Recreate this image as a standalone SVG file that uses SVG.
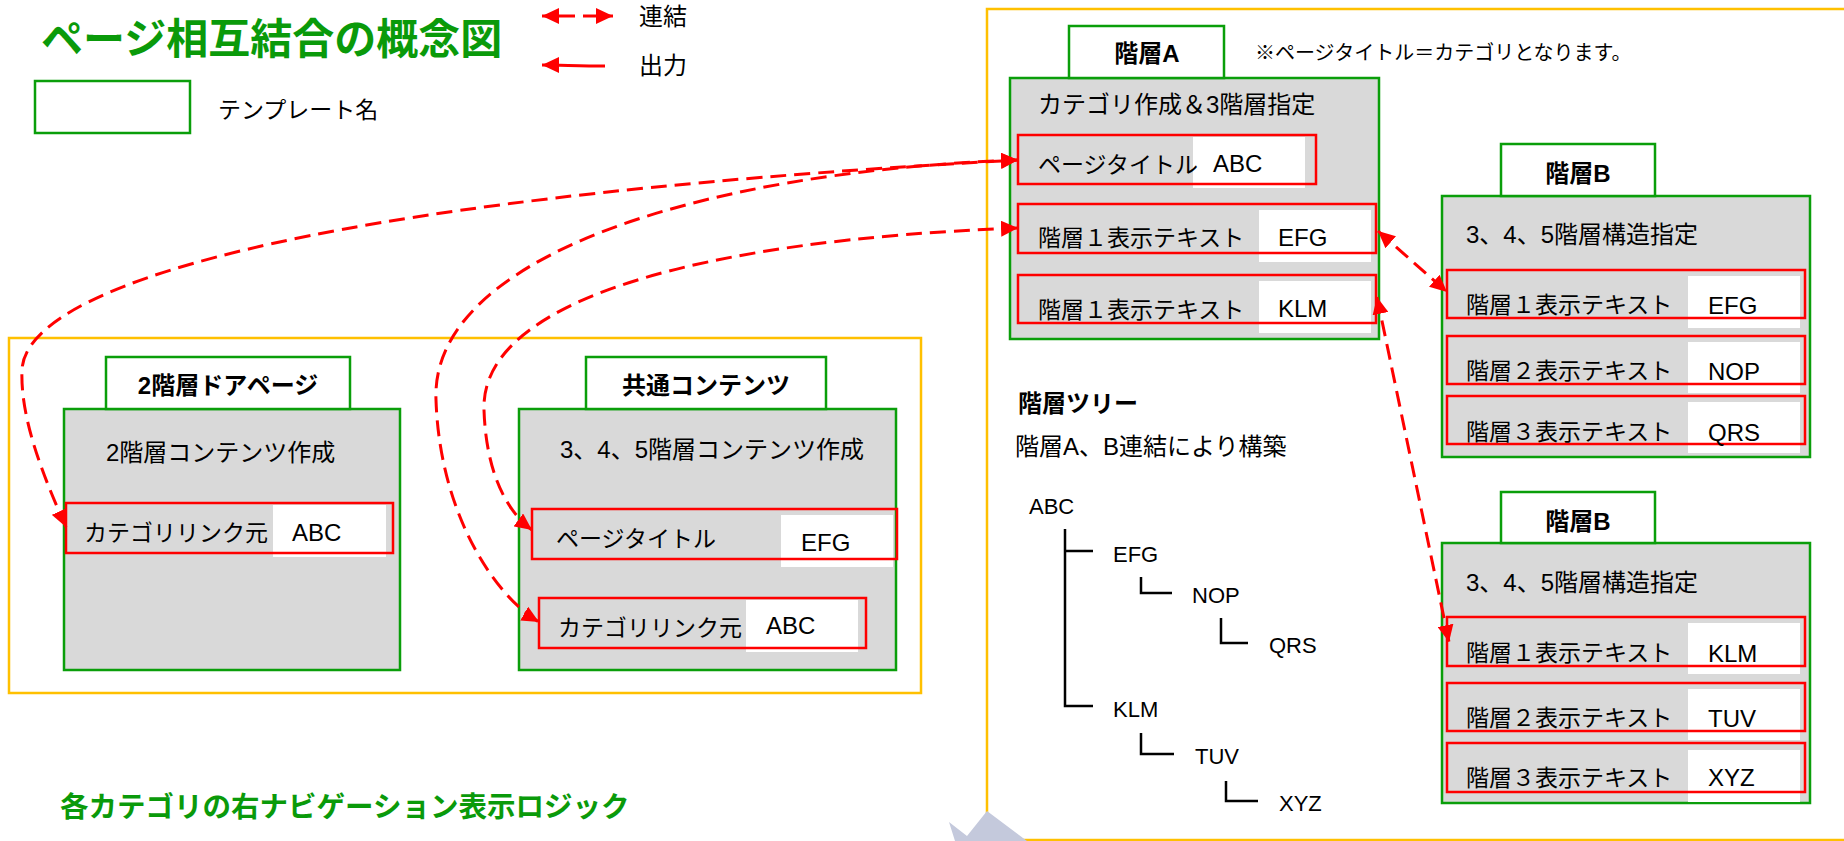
<svg xmlns="http://www.w3.org/2000/svg" width="1844" height="841" viewBox="0 0 1844 841">
<defs>
<style>
.t{font-family:"Liberation Sans","Noto Sans CJK JP",sans-serif;fill:#000;font-size:23px}
.h{font-size:24px}
.b{font-weight:bold;font-size:24px}
.c{text-anchor:middle}
.g{fill:#0a9a0a;font-weight:bold}
.tr{font-size:22px}
.tab{fill:#fff;stroke:#0a9e0a;stroke-width:2.5}
.main{fill:#d9d9d9;stroke:#0a9e0a;stroke-width:2.5}
.row{fill:none;stroke:#ff0000;stroke-width:2.5}
.val{fill:#fff}
.yel{fill:none;stroke:#ffc000;stroke-width:2.5}
.con{fill:none;stroke:#ff0000;stroke-width:3;stroke-dasharray:16 8;marker-start:url(#ah);marker-end:url(#ah)}
.ln{fill:none;stroke:#000;stroke-width:2.5}
</style>
<marker id="ah" markerUnits="userSpaceOnUse" markerWidth="18" markerHeight="16" refX="17" refY="8" orient="auto-start-reverse">
<path d="M0,0 L17,8 L0,16 z" fill="#ff0000"/>
</marker>
</defs>
<rect width="1844" height="841" fill="#fff"/>

<g id="containers">
<rect class="yel" x="9" y="338" width="912" height="355"/>
<rect class="yel" x="987" y="9" width="900" height="831"/>
<polygon points="949,822 967,836 987,811 1027,841 955,841" fill="#c4c9dc"/>
</g>

<g id="legend">
<text class="t g" x="41" y="54" style="font-size:42px">ページ相互結合の概念図</text>
<rect class="tab" x="35" y="81" width="155" height="52"/>
<text class="t" x="218" y="118">テンプレート名</text>
<path d="M542,16 L613,16" fill="none" stroke="#ff0000" stroke-width="3" stroke-dasharray="33 8" marker-start="url(#ah)" marker-end="url(#ah)"/>
<path d="M605,66 C580,66 560,65 542,65" fill="none" stroke="#ff0000" stroke-width="3" marker-end="url(#ah)"/>
<text class="t h" x="639" y="25">連結</text>
<text class="t h" x="639" y="74">出力</text>
<text class="t g" x="60" y="817" style="font-size:28.5px">各カテゴリの右ナビゲーション表示ロジック</text>
</g>

<g id="kaisou-a">
<rect class="main" x="1010" y="78" width="369" height="261"/>
<rect class="tab" x="1069" y="26" width="155" height="52"/>
<text class="t b c" x="1147" y="62">階層A</text>
<text class="t h" x="1038" y="113">カテゴリ作成＆3階層指定</text>
<rect class="val" x="1193" y="137" width="112" height="51"/>
<rect class="row" x="1018" y="135" width="298" height="49"/>
<text class="t" x="1038" y="173">ページタイトル</text>
<text class="t h" x="1213" y="172">ABC</text>
<rect class="val" x="1259" y="210" width="112" height="52"/>
<rect class="row" x="1018" y="204" width="358" height="49"/>
<text class="t" x="1038" y="246">階層１表示テキスト</text>
<text class="t h" x="1278" y="246">EFG</text>
<rect class="val" x="1259" y="281" width="112" height="52"/>
<rect class="row" x="1018" y="275" width="358" height="48"/>
<text class="t" x="1038" y="318">階層１表示テキスト</text>
<text class="t h" x="1278" y="317">KLM</text>
</g>

<text class="t" x="1255" y="60" style="font-size:20px">※ページタイトル＝カテゴリとなります。</text>

<g id="kaisou-b1">
<rect class="main" x="1442" y="196" width="368" height="261"/>
<rect class="tab" x="1501" y="144" width="154" height="52"/>
<text class="t b c" x="1578" y="182">階層B</text>
<text class="t h" x="1466" y="243">3、4、5階層構造指定</text>
<rect class="val" x="1688" y="276" width="112" height="52"/>
<rect class="row" x="1447" y="270" width="358" height="48"/>
<text class="t" x="1466" y="313">階層１表示テキスト</text>
<text class="t h" x="1708" y="314">EFG</text>
<rect class="val" x="1688" y="342" width="112" height="51"/>
<rect class="row" x="1447" y="336" width="358" height="48"/>
<text class="t" x="1466" y="379">階層２表示テキスト</text>
<text class="t h" x="1708" y="380">NOP</text>
<rect class="val" x="1688" y="402" width="112" height="51"/>
<rect class="row" x="1447" y="396" width="358" height="48"/>
<text class="t" x="1466" y="440">階層３表示テキスト</text>
<text class="t h" x="1708" y="441">QRS</text>
</g>

<g id="kaisou-b2">
<rect class="main" x="1442" y="543" width="368" height="260"/>
<rect class="tab" x="1501" y="492" width="154" height="51"/>
<text class="t b c" x="1578" y="530">階層B</text>
<text class="t h" x="1466" y="591">3、4、5階層構造指定</text>
<rect class="val" x="1688" y="623" width="112" height="51"/>
<rect class="row" x="1447" y="617" width="358" height="49"/>
<text class="t" x="1466" y="661">階層１表示テキスト</text>
<text class="t h" x="1708" y="662">KLM</text>
<rect class="val" x="1688" y="689" width="112" height="51"/>
<rect class="row" x="1447" y="683" width="358" height="48"/>
<text class="t" x="1466" y="726">階層２表示テキスト</text>
<text class="t h" x="1708" y="727">TUV</text>
<rect class="val" x="1688" y="750" width="112" height="52"/>
<rect class="row" x="1447" y="743" width="358" height="49"/>
<text class="t" x="1466" y="786">階層３表示テキスト</text>
<text class="t h" x="1708" y="786">XYZ</text>
</g>

<g id="door-page">
<rect class="main" x="64" y="409" width="336" height="261"/>
<rect class="tab" x="106" y="357" width="244" height="52"/>
<text class="t b c" x="228" y="394">2階層ドアページ</text>
<text class="t h" x="106" y="461">2階層コンテンツ作成</text>
<rect class="val" x="273" y="505" width="113" height="52"/>
<rect class="row" x="66" y="503" width="327" height="50"/>
<text class="t" x="84" y="541">カテゴリリンク元</text>
<text class="t h" x="292" y="541">ABC</text>
</g>

<g id="common-contents">
<rect class="main" x="519" y="409" width="377" height="261"/>
<rect class="tab" x="586" y="357" width="240" height="52"/>
<text class="t b c" x="706" y="394">共通コンテンツ</text>
<text class="t h" x="560" y="458">3、4、5階層コンテンツ作成</text>
<rect class="val" x="781" y="515" width="112" height="52"/>
<rect class="row" x="532" y="509" width="365" height="50"/>
<text class="t" x="556" y="547">ページタイトル</text>
<text class="t h" x="801" y="551">EFG</text>
<rect class="val" x="746" y="600" width="112" height="52"/>
<rect class="row" x="539" y="598" width="327" height="50"/>
<text class="t" x="558" y="636">カテゴリリンク元</text>
<text class="t h" x="766" y="634">ABC</text>
</g>

<g id="tree">
<text class="t b" x="1018" y="412">階層ツリー</text>
<text class="t h" x="1015" y="455">階層A、B連結により構築</text>
<path class="ln" d="M1065,529 V706 H1093 M1065,551 H1093 M1141,577 V593 H1172 M1221,618 V643 H1248 M1141,733 V754 H1174 M1226,781 V801 H1258"/>
<text class="t tr" x="1029" y="514">ABC</text>
<text class="t tr" x="1113" y="562">EFG</text>
<text class="t tr" x="1192" y="603">NOP</text>
<text class="t tr" x="1269" y="653">QRS</text>
<text class="t tr" x="1113" y="717">KLM</text>
<text class="t tr" x="1195" y="764">TUV</text>
<text class="t tr" x="1279" y="811">XYZ</text>
</g>

<g id="connectors">
<path class="con" d="M66,527 C45,480 20,420 22,370 C25,290 280,200 1018,160"/>
<path class="con" d="M1018,160 C690,172 430,260 436,400 C440,520 500,600 539,622"/>
<path class="con" d="M1018,228 C700,240 480,300 484,410 C486,470 505,510 532,530"/>
<path class="con" d="M1378,231 L1447,292"/>
<path class="con" d="M1377,297 L1449,642"/>
</g>
</svg>
